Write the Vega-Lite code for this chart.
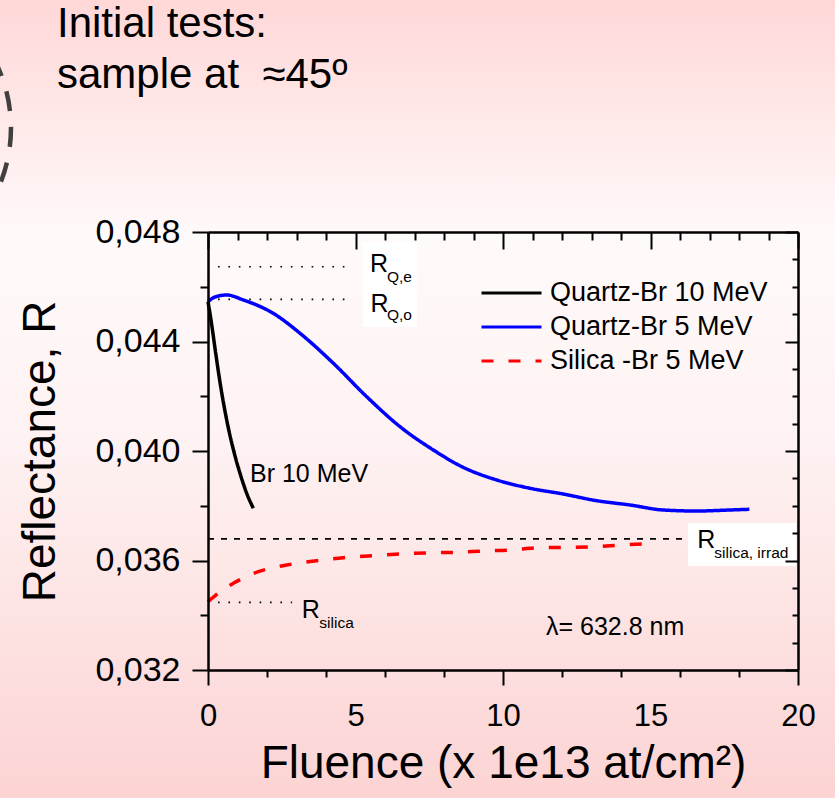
{
  "$schema": "https://vega.github.io/schema/vega-lite/v6.json",
  "width": 590,
  "height": 438,
  "autosize": {"type": "none"},
  "padding": {"left": 208, "top": 232, "right": 37, "bottom": 128},
  "background": "#fdecec",
  "config": {
    "font": "Liberation Sans",
    "view": {"stroke": null},
    "text": {"color": "black"},
    "axis": {"labelOverlap": false}
  },
  "datasets": {
    "curves": [
      {"series": "Quartz-Br 10 MeV", "fluence": 0, "R": 0.045454},
      {"series": "Quartz-Br 10 MeV", "fluence": 0.102, "R": 0.044785},
      {"series": "Quartz-Br 10 MeV", "fluence": 0.261, "R": 0.043569},
      {"series": "Quartz-Br 10 MeV", "fluence": 0.431, "R": 0.042349},
      {"series": "Quartz-Br 10 MeV", "fluence": 0.634, "R": 0.041132},
      {"series": "Quartz-Br 10 MeV", "fluence": 0.892, "R": 0.039916},
      {"series": "Quartz-Br 10 MeV", "fluence": 1.085, "R": 0.039185},
      {"series": "Quartz-Br 10 MeV", "fluence": 1.312, "R": 0.038455},
      {"series": "Quartz-Br 10 MeV", "fluence": 1.536, "R": 0.037907},
      {"series": "Quartz-Br 5 MeV", "fluence": 0, "R": 0.045454},
      {"series": "Quartz-Br 5 MeV", "fluence": 0.24, "R": 0.045626},
      {"series": "Quartz-Br 5 MeV", "fluence": 0.63, "R": 0.045699},
      {"series": "Quartz-Br 5 MeV", "fluence": 1.2, "R": 0.045516},
      {"series": "Quartz-Br 5 MeV", "fluence": 2.21, "R": 0.04503},
      {"series": "Quartz-Br 5 MeV", "fluence": 3.12, "R": 0.0443},
      {"series": "Quartz-Br 5 MeV", "fluence": 4.25, "R": 0.043204},
      {"series": "Quartz-Br 5 MeV", "fluence": 5.38, "R": 0.041983},
      {"series": "Quartz-Br 5 MeV", "fluence": 6.51, "R": 0.040888},
      {"series": "Quartz-Br 5 MeV", "fluence": 7.64, "R": 0.040036},
      {"series": "Quartz-Br 5 MeV", "fluence": 8.65, "R": 0.039404},
      {"series": "Quartz-Br 5 MeV", "fluence": 9.79, "R": 0.038941},
      {"series": "Quartz-Br 5 MeV", "fluence": 10.92, "R": 0.038637},
      {"series": "Quartz-Br 5 MeV", "fluence": 12.04, "R": 0.038429},
      {"series": "Quartz-Br 5 MeV", "fluence": 13.18, "R": 0.038184},
      {"series": "Quartz-Br 5 MeV", "fluence": 14.31, "R": 0.038027},
      {"series": "Quartz-Br 5 MeV", "fluence": 15.43, "R": 0.037845},
      {"series": "Quartz-Br 5 MeV", "fluence": 16.57, "R": 0.037808},
      {"series": "Quartz-Br 5 MeV", "fluence": 17.69, "R": 0.037845},
      {"series": "Quartz-Br 5 MeV", "fluence": 18.35, "R": 0.03787},
      {"series": "Silica -Br 5 MeV", "fluence": 0, "R": 0.034495},
      {"series": "Silica -Br 5 MeV", "fluence": 0.41, "R": 0.03486},
      {"series": "Silica -Br 5 MeV", "fluence": 0.86, "R": 0.035167},
      {"series": "Silica -Br 5 MeV", "fluence": 1.71, "R": 0.035591},
      {"series": "Silica -Br 5 MeV", "fluence": 2.67, "R": 0.035836},
      {"series": "Silica -Br 5 MeV", "fluence": 3.68, "R": 0.035993},
      {"series": "Silica -Br 5 MeV", "fluence": 4.59, "R": 0.036102},
      {"series": "Silica -Br 5 MeV", "fluence": 5.6, "R": 0.036175},
      {"series": "Silica -Br 5 MeV", "fluence": 6.51, "R": 0.036237},
      {"series": "Silica -Br 5 MeV", "fluence": 7.64, "R": 0.036285},
      {"series": "Silica -Br 5 MeV", "fluence": 8.43, "R": 0.0363},
      {"series": "Silica -Br 5 MeV", "fluence": 9.33, "R": 0.036347},
      {"series": "Silica -Br 5 MeV", "fluence": 10.24, "R": 0.036383},
      {"series": "Silica -Br 5 MeV", "fluence": 11.25, "R": 0.036467},
      {"series": "Silica -Br 5 MeV", "fluence": 12.16, "R": 0.036482},
      {"series": "Silica -Br 5 MeV", "fluence": 13.06, "R": 0.036504},
      {"series": "Silica -Br 5 MeV", "fluence": 14.02, "R": 0.036566},
      {"series": "Silica -Br 5 MeV", "fluence": 15.21, "R": 0.036628}
    ],
    "levels": [
      {"level": "R_Q,e", "R": 0.04673, "from": 0.34, "to": 4.81},
      {"level": "R_Q,o", "R": 0.04554, "from": 0.34, "to": 4.81},
      {"level": "R_silica", "R": 0.03447, "from": 0.34, "to": 2.85},
      {"level": "R_silica,irrad", "R": 0.03679, "from": 0, "to": 16.24}
    ],
    "notes": [
      {"note": "Br 10 MeV", "fluence": 1.424, "R": 0.038878},
      {"note": "λ= 632.8 nm", "fluence": 11.458, "R": 0.033278}
    ],
    "symbols": [
      {"note": "R", "fluence": 5.49, "R": 0.04655},
      {"note": "R", "fluence": 5.51, "R": 0.045089},
      {"note": "R", "fluence": 3.176, "R": 0.033888},
      {"note": "R", "fluence": 16.586, "R": 0.036446}
    ],
    "subscripts": [
      {"note": "Q,e", "fluence": 6.068, "R": 0.046184},
      {"note": "Q,o", "fluence": 6.068, "R": 0.044785},
      {"note": "silica", "fluence": 3.773, "R": 0.033523},
      {"note": "silica, irrad", "fluence": 17.163, "R": 0.03608}
    ]
  },
  "layer": [
    {
      "layer": [
        {
          "data": {"values": [{}]},
          "mark": {
            "type": "rect",
            "fill": {
              "gradient": "linear",
              "x1": 0, "y1": 0, "x2": 0, "y2": 1,
              "stops": [
                {"offset": 0, "color": "#ffd7d7"},
                {"offset": 0.3, "color": "#fffafa"},
                {"offset": 0.55, "color": "#fef2f2"},
                {"offset": 1, "color": "#fcd3d3"}
              ]
            }
          },
          "encoding": {
            "x": {"datum": -7.06, "type": "quantitative"},
            "x2": {"datum": 21.26},
            "y": {"datum": 0.05648, "type": "quantitative"},
            "y2": {"datum": 0.02732}
          }
        },
        {
          "data": {"values": [{}]},
          "mark": {
            "type": "arc",
            "theta": 1.08,
            "theta2": 2.07,
            "radius": 149,
            "filled": false,
            "fill": null,
            "stroke": "#404040",
            "strokeWidth": 4.5,
            "strokeDash": [20, 16]
          },
          "encoding": {
            "x": {"datum": -11.73, "type": "quantitative"},
            "y": {"datum": 0.0518, "type": "quantitative"}
          }
        },
        {
          "data": {"values": [{}]},
          "mark": {
            "type": "text",
            "text": ["Initial tests:", "sample at\u00a0 ≈45º"],
            "align": "left",
            "baseline": "alphabetic",
            "fontSize": 42,
            "lineHeight": 51,
            "color": "black"
          },
          "encoding": {
            "x": {"datum": -5.12, "type": "quantitative"},
            "y": {"datum": 0.05512, "type": "quantitative"}
          }
        },
        {
          "data": {"values": [{}]},
          "mark": {"type": "rect", "fill": "white"},
          "encoding": {
            "x": {"datum": 16.27, "type": "quantitative"},
            "x2": {"datum": 19.93},
            "y": {"datum": 0.03737, "type": "quantitative"},
            "y2": {"datum": 0.0358}
          }
        },
        {
          "data": {"values": [{}]},
          "mark": {"type": "rect", "fill": "white"},
          "encoding": {
            "x": {"datum": 5.25, "type": "quantitative"},
            "x2": {"datum": 7.08},
            "y": {"datum": 0.047635, "type": "quantitative"},
            "y2": {"datum": 0.04453}
          }
        },
        {
          "data": {"name": "levels"},
          "transform": [{"filter": "datum.level !== 'R_silica,irrad'"}],
          "mark": {"type": "rule", "color": "black", "strokeWidth": 1.6, "strokeDash": [1.6, 8.8]},
          "encoding": {
            "x": {"field": "from", "type": "quantitative"},
            "x2": {"field": "to"},
            "y": {"field": "R", "type": "quantitative"}
          }
        },
        {
          "data": {"name": "levels"},
          "transform": [{"filter": "datum.level === 'R_silica,irrad'"}],
          "mark": {"type": "rule", "color": "black", "strokeWidth": 1.6, "strokeDash": [6, 7]},
          "encoding": {
            "x": {"field": "from", "type": "quantitative"},
            "x2": {"field": "to"},
            "y": {"field": "R", "type": "quantitative"}
          }
        },
        {
          "data": {"name": "curves"},
          "mark": {"type": "line", "strokeWidth": 3.5, "interpolate": "monotone"},
          "encoding": {
            "x": {
              "field": "fluence",
              "type": "quantitative",
              "scale": {"domain": [0, 20], "nice": false, "zero": false},
              "axis": {
                "orient": "bottom",
                "values": [0,1,2,3,4,5,6,7,8,9,10,11,12,13,14,15,16,17,18,19,20],
                "labels": false,
                "tickSize": {"condition": {"test": "datum.value % 5 === 0", "value": 15}, "value": 7},
                "tickColor": "black",
                "tickWidth": 2,
                "domainColor": "black",
                "domainWidth": 2.5,
                "grid": false,
                "title": null,
                "zindex": 1
              }
            },
            "y": {
              "field": "R",
              "type": "quantitative",
              "scale": {"domain": [0.032, 0.048], "nice": false, "zero": false},
              "axis": {
                "orient": "left",
                "values": [0.032,0.033,0.034,0.035,0.036,0.037,0.038,0.039,0.04,0.041,0.042,0.043,0.044,0.045,0.046,0.047,0.048],
                "labelExpr": "round(datum.value * 1000) % 4 === 0 ? replace(format(datum.value, '.3f'), '.', ',') : ''",
                "tickSize": {"condition": {"test": "round(datum.value * 1000) % 4 === 0", "value": 16}, "value": 8},
                "tickColor": "black",
                "tickWidth": 2,
                "domainColor": "black",
                "domainWidth": 2.5,
                "grid": false,
                "labelFontSize": 34,
                "labelColor": "black",
                "labelPadding": 12,
                "labelFlush": false,
                "labelOverlap": false,
                "title": "Reflectance, R",
                "titleFontSize": 46,
                "titleFontWeight": "normal",
                "titleColor": "black",
                "titlePadding": 30,
                "zindex": 1
              }
            },
            "color": {
              "field": "series",
              "type": "nominal",
              "scale": {
                "domain": ["Quartz-Br 10 MeV", "Quartz-Br 5 MeV", "Silica -Br 5 MeV"],
                "range": ["#000000", "#0000ff", "#ff0000"]
              },
              "legend": {
                "title": null,
                "orient": "none",
                "legendX": 272,
                "legendY": 44,
                "padding": 0,
                "symbolType": "stroke",
                "symbolSize": 3600,
                "symbolStrokeWidth": 3,
                "labelFontSize": 27,
                "labelColor": "black",
                "labelOffset": 7,
                "labelLimit": 400,
                "clipHeight": 34,
                "rowPadding": 0,
                "encode": {
                  "labels": {
                    "update": {
                      "text": {"signal": "datum.value === 'Silica -Br 5 MeV' ? '\u00a0Silica -Br 5 MeV' : datum.label"}
                    }
                  }
                }
              }
            },
            "strokeDash": {
              "field": "series",
              "type": "nominal",
              "scale": {
                "domain": ["Quartz-Br 10 MeV", "Quartz-Br 5 MeV", "Silica -Br 5 MeV"],
                "range": [[1, 0], [1, 0], [12, 15]]
              },
              "legend": {
                "title": null,
                "orient": "none",
                "legendX": 272,
                "legendY": 44,
                "padding": 0,
                "symbolType": "stroke",
                "symbolSize": 3600,
                "symbolStrokeWidth": 3,
                "labelFontSize": 27,
                "labelColor": "black",
                "labelOffset": 7,
                "labelLimit": 400,
                "clipHeight": 34,
                "rowPadding": 0,
                "encode": {
                  "labels": {
                    "update": {
                      "text": {"signal": "datum.value === 'Silica -Br 5 MeV' ? '\u00a0Silica -Br 5 MeV' : datum.label"}
                    }
                  }
                }
              }
            }
          }
        },
        {
          "data": {"name": "notes"},
          "mark": {"type": "text", "align": "left", "baseline": "alphabetic", "fontSize": 25, "color": "black"},
          "encoding": {
            "x": {"field": "fluence", "type": "quantitative"},
            "y": {"field": "R", "type": "quantitative"},
            "text": {"field": "note"}
          }
        },
        {
          "data": {"name": "symbols"},
          "mark": {"type": "text", "align": "left", "baseline": "alphabetic", "fontSize": 25, "color": "black"},
          "encoding": {
            "x": {"field": "fluence", "type": "quantitative"},
            "y": {"field": "R", "type": "quantitative"},
            "text": {"field": "note"}
          }
        },
        {
          "data": {"name": "subscripts"},
          "mark": {"type": "text", "align": "left", "baseline": "alphabetic", "fontSize": 15.5, "color": "black"},
          "encoding": {
            "x": {"field": "fluence", "type": "quantitative"},
            "y": {"field": "R", "type": "quantitative"},
            "text": {"field": "note"}
          }
        }
      ]
    },
    {
      "data": {"name": "curves"},
      "mark": {"type": "point", "opacity": 0},
      "encoding": {
        "x": {
          "field": "fluence",
          "type": "quantitative",
          "scale": {"domain": [0, 20], "nice": false, "zero": false},
          "axis": {
            "orient": "top",
            "values": [0,1,2,3,4,5,6,7,8,9,10,11,12,13,14,15,16,17,18,19,20],
            "labels": false,
            "title": null,
            "tickSize": {"condition": {"test": "datum.value % 5 === 0", "value": -17}, "value": -8},
            "tickColor": "black",
            "tickWidth": 2,
            "domainColor": "black",
            "domainWidth": 2.5,
            "grid": false,
            "zindex": 1
          }
        },
        "y": {
          "field": "R",
          "type": "quantitative",
          "scale": {"domain": [0.032, 0.048], "nice": false, "zero": false},
          "axis": {
            "orient": "right",
            "values": [0.032,0.033,0.034,0.035,0.036,0.037,0.038,0.039,0.04,0.041,0.042,0.043,0.044,0.045,0.046,0.047,0.048],
            "labels": false,
            "title": null,
            "tickSize": {"condition": {"test": "round(datum.value * 1000) % 4 === 0", "value": -13}, "value": -6},
            "tickColor": "black",
            "tickWidth": 2,
            "domainColor": "black",
            "domainWidth": 2.5,
            "grid": false,
            "zindex": 1
          }
        }
      }
    },
    {
      "data": {"name": "curves"},
      "mark": {"type": "point", "opacity": 0},
      "encoding": {
        "x": {
          "field": "fluence",
          "type": "quantitative",
          "scale": {"domain": [0, 20], "nice": false, "zero": false},
          "axis": {
            "orient": "bottom",
            "values": [0, 5, 10, 15, 20],
            "domain": false,
            "tickSize": 15,
            "tickOpacity": 0,
            "grid": false,
            "labelFontSize": 31,
            "labelColor": "black",
            "labelPadding": 16,
            "labelFlush": false,
            "labelOverlap": false,
            "title": "Fluence (x 1e13 at/cm²)",
            "titleFontSize": 46,
            "titleFontWeight": "normal",
            "titleColor": "black",
            "titlePadding": 10,
            "zindex": 1
          }
        },
        "y": {
          "field": "R",
          "type": "quantitative",
          "scale": {"domain": [0.032, 0.048], "nice": false, "zero": false},
          "axis": null
        }
      }
    }
  ],
  "resolve": {"scale": {"x": "independent", "y": "independent"}}
}
